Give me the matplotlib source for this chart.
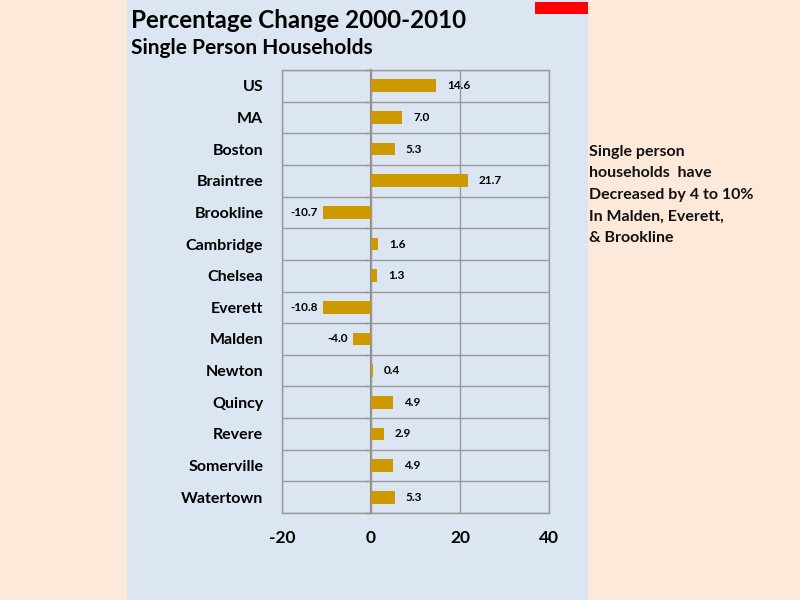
import matplotlib
matplotlib.use("Agg")
import matplotlib.pyplot as plt
from matplotlib.patches import Rectangle
import numpy as np

categories = ["US", "MA", "Boston", "Braintree", "Brookline", "Cambridge", "Chelsea",
              "Everett", "Malden", "Newton", "Quincy", "Revere", "Somerville", "Watertown"]
values = [14.6, 7.0, 5.3, 21.7, -10.7, 1.6, 1.3, -10.8, -4.0, 0.4, 4.9, 2.9, 4.9, 5.3]
xticks = [-20, 0, 20, 40]

plt.rcParams['font.family'] = ['Lato', 'DejaVu Sans']

W, H = 800, 600
fig = plt.figure(figsize=(8, 6), dpi=100)
fig.patch.set_facecolor("#FDE9D9")

def fx(px):
    return px / W

def fy(py):
    return 1 - py / H

# light blue panel
fig.patches.append(Rectangle((fx(127), 0), fx(588) - fx(127), 1, transform=fig.transFigure,
                             facecolor="#DCE6F2", edgecolor="none", zorder=-2))
# red marker
fig.patches.append(Rectangle((fx(535), fy(14)), fx(588) - fx(535), fy(2) - fy(14),
                             transform=fig.transFigure, facecolor="#FF0000",
                             edgecolor="none", zorder=-1))

fig.text(fx(131), fy(20), "Percentage Change 2000-2010", fontsize=17.4, fontweight="bold",
         va="center", ha="left", color="black")
fig.text(fx(131), fy(48), "Single Person Households", fontsize=15, fontweight="bold",
         va="center", ha="left", color="black")

side = "Single person\nhouseholds  have\nDecreased by 4 to 10%\nIn Malden, Everett,\n& Brookline"
fig.text(fx(589), fy(145), side, fontsize=11.5, fontweight="bold", va="top", ha="left",
         linespacing=1.68, color="#111111")

ax = fig.add_axes([fx(282), fy(513), fx(549) - fx(282), fy(70) - fy(513)])
ax.set_facecolor("none")

n = len(categories)
y = np.arange(n)
ax.barh(y, values, height=0.4, color="#CC9900", zorder=3)

ax.set_xlim(-20, 40)
ax.set_ylim(n - 0.5, -0.5)
ax.set_xticks(xticks)
ax.set_xticklabels([str(t) for t in xticks], fontsize=12.5, fontweight="bold")
ax.tick_params(axis="x", length=0, pad=12)
ax.set_yticks(y)
ax.set_yticklabels(categories, fontsize=11.5, fontweight="bold")
ax.tick_params(axis="y", length=0, pad=13.5)

ax.set_yticks(np.arange(n + 1) - 0.5, minor=True)
ax.tick_params(axis="y", which="minor", length=0)
ax.grid(True, which="minor", axis="y", color="#999999", linewidth=1, zorder=1)
ax.grid(True, which="major", axis="x", color="#999999", linewidth=1, zorder=1)
ax.grid(False, which="major", axis="y")
for s in ax.spines.values():
    s.set_color("#999999")
    s.set_linewidth(1)

# zero axis with small outward ticks
sec = ax.secondary_yaxis(20 / 60)
sec.spines["left"].set_color("#888888")
sec.spines["left"].set_linewidth(1.5)
sec.set_yticks(np.arange(n + 1) - 0.5)
sec.set_yticklabels([])
sec.tick_params(axis="y", length=4, color="#888888", width=1)

for yi, v in zip(y, values):
    if v >= 0:
        ax.annotate(f"{v:.1f}", (v, yi), xytext=(8, 0), textcoords="offset points",
                    ha="left", va="center", fontsize=8.5, fontweight="bold")
    else:
        ax.annotate(f"{v:.1f}", (v, yi), xytext=(-4, 0), textcoords="offset points",
                    ha="right", va="center", fontsize=8.5, fontweight="bold")

fig.savefig("out.png", dpi=100, facecolor=fig.get_facecolor())
